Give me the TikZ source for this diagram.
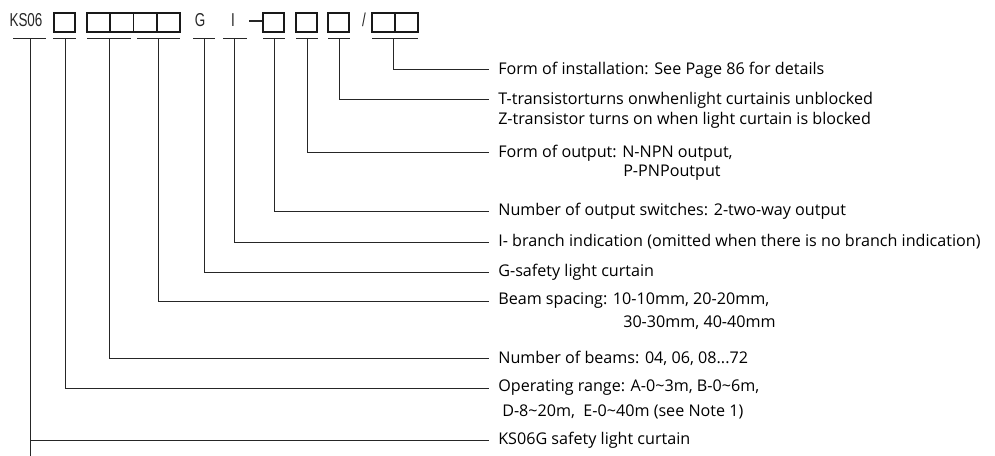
\documentclass[tikz,border=0pt]{standalone}
\usepackage{fontspec}
\usepackage{graphicx}
\setmainfont{Open Sans}
\newfontfamily\codefont{Liberation Sans}
\tikzset{
  x=0.75pt, y=-0.75pt,
  conn/.style={draw=black!85, line width=0.75pt},
  codetxt/.style={inner sep=0pt, font=\codefont\fontsize{14}{16}\selectfont, text=black!85},
  codebox/.style={draw=black!90, line width=1.1pt, minimum height=14.5pt, minimum width=#1, inner sep=0pt},
  codebox/.default=15.75pt,
  lbl/.style={anchor=west, inner xsep=6.8pt, inner ysep=0pt, font=\fontsize{12.1}{14}\selectfont, text=black},
  cont/.style={anchor=west, inner sep=0pt, font=\fontsize{12.1}{14}\selectfont, text=black},
}
\newcommand{\cw}[1]{\scalebox{0.72}[1]{#1}}
\begin{document}
\begin{tikzpicture}
\useasboundingbox (0,0) rectangle (995,456);
% top code row
\node[codetxt] (ks) at (26,20) {\cw{KS06}};
\node[codebox] (b1) at (64.5,22.5) {};
\node[codebox=17.4pt] (b2) at (98.6,22.5) {};
\node[codebox=17.4pt] (b3) at (121.9,22.5) {};
\node[codebox=17.4pt] (b4) at (145.1,22.5) {};
\node[codebox=17.4pt] (b5) at (168.4,22.5) {};
\node[codetxt] (g) at (200,20) {\cw{G}};
\node[codetxt] (i) at (233,20) {\cw{I}};
\node[codetxt] (dash) at (256.5,21) {\cw{\rule{15pt}{1.3pt}}};
\node[codebox] (b6) at (273.5,22.5) {};
\node[codebox] (b7) at (306.5,22.5) {};
\node[codebox] (b8) at (338.5,22.5) {};
\node[codetxt] (sl) at (364,20) {\cw{/}};
\node[codebox=17.2pt] (b9) at (383.5,22.5) {};
\node[codebox=17.2pt] (b10) at (406.5,22.5) {};
% underline centres
\coordinate (u1) at (30,39);
\coordinate (u2) at (65,39);
\coordinate (u3) at (109,39);
\coordinate (u4) at (158,39);
\coordinate (u5) at (204,39);
\coordinate (u6) at (234,39);
\coordinate (u7) at (274,39);
\coordinate (u8) at (307,39);
\coordinate (u9) at (339,39);
\coordinate (u10) at (393,39);
\draw[conn] (13,39) -- (46,39);
\draw[conn] (53,39) -- (76,39);
\draw[conn] (87,39) -- (131,39);
\draw[conn] (137,39) -- (180,39);
\draw[conn] (193,39) -- (215,39);
\draw[conn] (223,39) -- (247,39);
\draw[conn] (263,39) -- (285,39);
\draw[conn] (296,39) -- (318,39);
\draw[conn] (328,39) -- (350,39);
\draw[conn] (372,39) -- (418,39);
% labels
\node[lbl] (l10) at (489,70) {Form of installation: See Page 86 for details};
\node[lbl] (l9) at (489,100) {T-transistorturns onwhenlight curtainis unblocked};
\node[cont] (l9b) at (498,120) {Z-transistor turns on when light curtain is blocked};
\node[lbl] (l8) at (489,153) {Form of output: N-NPN output,};
\node[cont] (l8b) at (623,173) {P-PNPoutput};
\node[lbl] (l7) at (489,211) {Number of output switches: 2-two-way output};
\node[lbl] (l6) at (489,242) {I- branch indication (omitted when there is no branch indication)};
\node[lbl] (l5) at (489,272) {G-safety light curtain};
\node[lbl] (l4) at (489,301) {Beam spacing: 10-10mm, 20-20mm,};
\node[cont] (l4b) at (623,323) {30-30mm, 40-40mm};
\node[lbl] (l3) at (489,358) {Number of beams: 04, 06, 08...72};
\node[lbl] (l2) at (489,388) {Operating range: A-0\textasciitilde3m, B-0\textasciitilde6m,};
\node[cont] (l2b) at (502,412) {D-8\textasciitilde20m,\ \ E-0\textasciitilde40m (see Note 1)};
\node[lbl] (l1) at (489,440) {KS06G safety light curtain};
% connectors
\draw[conn] (u10) |- (l10.west);
\draw[conn] (u9) |- (l9.west);
\draw[conn] (u8) |- (l8.west);
\draw[conn] (u7) |- (l7.west);
\draw[conn] (u6) |- (l6.west);
\draw[conn] (u5) |- (l5.west);
\draw[conn] (u4) |- (l4.west);
\draw[conn] (u3) |- (l3.west);
\draw[conn] (u2) |- (l2.west);
\draw[conn] (u1) |- (l1.west);
\coordinate (bot) at (30,456);
\draw[conn] (u1) -- (bot);
\end{tikzpicture}
\end{document}
